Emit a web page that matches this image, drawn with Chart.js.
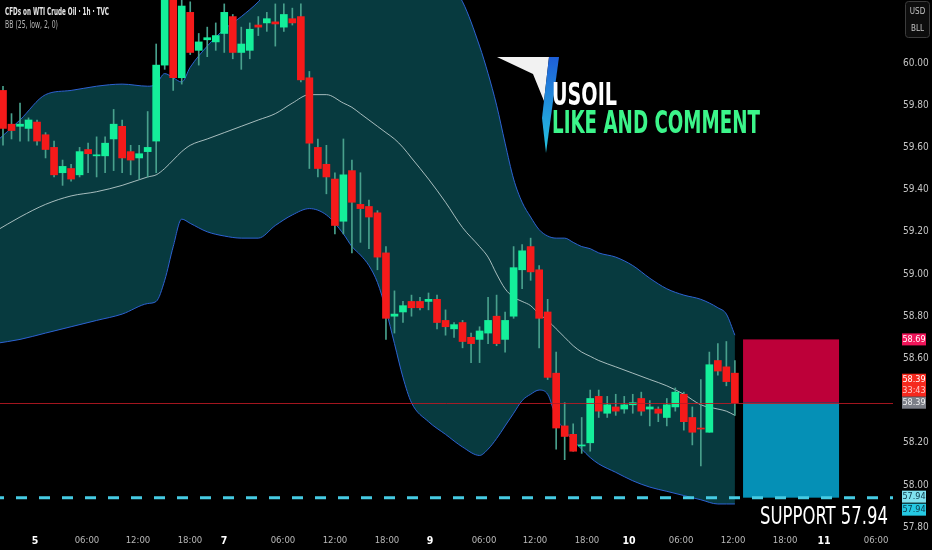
<!DOCTYPE html>
<html>
<head>
<meta charset="utf-8">
<script src="https://cdn.jsdelivr.net/npm/chart.js@4/dist/chart.umd.min.js"></script>
<style>
  html, body { margin: 0; padding: 0; background: #000; }
  #wrap { width: 932px; height: 550px; }
</style>
</head>
<body>
<div id="wrap"><canvas id="chart" width="932" height="550"></canvas></div>
<script>
// hourly candles, WTI crude (TVC), bar index 0..86
const opens = [
  59.87, 59.71, 59.70, 59.69, 59.72, 59.66, 59.60, 59.48, 59.50, 59.47,
  59.59, 59.56, 59.56, 59.64, 59.70, 59.58, 59.55, 59.58, 59.63, 59.99,
  60.33, 59.93, 60.24, 60.06, 60.11, 60.10, 60.14, 60.22, 60.05, 60.06,
  60.18, 60.19, 60.195, 60.17, 60.21, 60.22, 59.93, 59.60, 59.52, 59.45,
  59.25, 59.49, 59.33, 59.32, 59.29, 59.10, 58.80, 58.82, 58.87, 58.87,
  58.87, 58.88, 58.78, 58.74, 58.77, 58.70, 58.69, 58.72, 58.80, 58.69,
  58.80, 59.02, 59.13, 59.02, 58.82, 58.53, 58.28, 58.24, 58.185, 58.20,
  58.42, 58.34, 58.37, 58.36, 58.38, 58.41, 58.36, 58.36, 58.32, 58.37,
  58.43, 58.32, 58.27, 58.25, 58.59, 58.56, 58.53
];
const highs = [
  59.89, 59.76, 59.81, 59.74, 59.73, 59.67, 59.63, 59.54, 59.52, 59.60,
  59.62, 59.65, 59.65, 59.78, 59.73, 59.61, 59.61, 59.77, 60.09, 60.35,
  60.38, 60.30, 60.29, 60.14, 60.17, 60.19, 60.28, 60.23, 60.17, 60.19,
  60.22, 60.24, 60.28, 60.28, 60.26, 60.28, 59.96, 59.64, 59.61, 59.48,
  59.64, 59.54, 59.48, 59.35, 59.30, 59.13, 58.92, 58.87, 58.90, 58.89,
  58.91, 58.90, 58.83, 58.77, 58.78, 58.72, 58.75, 58.89, 58.90, 58.82,
  59.13, 59.14, 59.17, 59.04, 58.88, 58.63, 58.39, 58.29, 58.32, 58.45,
  58.45, 58.42, 58.43, 58.42, 58.43, 58.44, 58.40, 58.37, 58.41, 58.46,
  58.44, 58.37, 58.50, 58.63, 58.67, 58.68, 58.59
];
const lows = [
  59.61, 59.64, 59.63, 59.63, 59.61, 59.55, 59.46, 59.42, 59.44, 59.46,
  59.48, 59.46, 59.48, 59.49, 59.48, 59.47, 59.45, 59.46, 59.48, 59.97,
  59.87, 59.90, 60.04, 59.99, 60.03, 60.06, 60.05, 60.02, 59.97, 60.02,
  60.13, 60.15, 60.08, 60.15, 60.18, 59.91, 59.50, 59.46, 59.38, 59.19,
  59.19, 59.10, 59.15, 59.12, 59.02, 58.69, 58.72, 58.77, 58.80, 58.83,
  58.83, 58.74, 58.71, 58.70, 58.65, 58.58, 58.58, 58.67, 58.66, 58.63,
  58.79, 58.93, 58.97, 58.65, 58.50, 58.17, 58.12, 58.16, 58.15, 58.16,
  58.32, 58.32, 58.33, 58.34, 58.34, 58.33, 58.28, 58.30, 58.28, 58.35,
  58.26, 58.19, 58.09, 58.25, 58.52, 58.47, 58.33
];
const closes = [
  59.69, 59.68, 59.71, 59.73, 59.63, 59.59, 59.47, 59.51, 59.45, 59.58,
  59.57, 59.565, 59.62, 59.71, 59.55, 59.54, 59.57, 59.60, 59.99, 60.30,
  59.93, 60.27, 60.05, 60.10, 60.12, 60.13, 60.24, 60.05, 60.09, 60.16,
  60.17, 60.21, 60.185, 60.23, 60.19, 59.92, 59.62, 59.50, 59.46, 59.23,
  59.47, 59.34, 59.31, 59.27, 59.08, 58.79, 58.81, 58.85, 58.84, 58.84,
  58.88, 58.77, 58.75, 58.76, 58.68, 58.67, 58.73, 58.78, 58.67, 58.78,
  59.03, 59.11, 59.01, 58.79, 58.51, 58.27, 58.23, 58.16, 58.19, 58.41,
  58.35, 58.38, 58.35, 58.38, 58.39, 58.35, 58.37, 58.34, 58.38, 58.44,
  58.30, 58.25, 58.265, 58.57, 58.54, 58.49, 58.39
];

// Bollinger bands BB(25, low, 2, 0) at these bar indices
const bbIndex = [
  -1, 2, 5, 8, 11, 14, 17, 18, 19, 20, 21, 22, 24, 26, 28, 30, 32, 34, 36, 38,
  40, 41, 42, 43, 44, 45, 46, 47, 48, 50, 52, 54, 56, 57, 58, 59, 60, 61, 62, 63,
  64, 65, 66, 67, 68, 69, 70, 72, 74, 76, 78, 80, 82, 84, 85, 86
];
const bbUpper = [
  59.62, 59.73, 59.85, 59.87, 59.89, 59.90, 59.89, 59.90, 59.95, 59.93, 59.91, 59.98, 60.08, 60.16, 60.22, 60.29, 60.38, 60.44, 60.48, 60.50,
  60.51, 60.51, 60.51, 60.51, 60.50, 60.50, 60.49, 60.48, 60.47, 60.45, 60.40, 60.29, 60.08, 59.95, 59.80, 59.62, 59.45, 59.34, 59.27, 59.21,
  59.18, 59.17, 59.17, 59.15, 59.13, 59.12, 59.10, 59.08, 59.04, 58.98, 58.93, 58.90, 58.88, 58.84, 58.81, 58.71
];
const bbMiddle = [
  59.20, 59.27, 59.33, 59.37, 59.39, 59.42, 59.46, 59.47, 59.50, 59.54, 59.58, 59.61, 59.64, 59.67, 59.70, 59.73, 59.76, 59.81, 59.85, 59.85,
  59.81, 59.79, 59.76, 59.73, 59.70, 59.67, 59.64, 59.60, 59.55, 59.45, 59.34, 59.22, 59.13, 59.08, 59.00, 58.93, 58.89, 58.87, 58.85, 58.81,
  58.78, 58.74, 58.70, 58.66, 58.63, 58.61, 58.59, 58.56, 58.53, 58.50, 58.47, 58.43, 58.38, 58.36, 58.35, 58.33
];
const bbLower = [
  58.67, 58.69, 58.72, 58.75, 58.78, 58.81, 58.86, 58.87, 58.97, 59.13, 59.26, 59.24, 59.20, 59.18, 59.17, 59.17, 59.23, 59.28, 59.31, 59.28,
  59.19, 59.13, 59.09, 59.04, 58.96, 58.83, 58.67, 58.51, 58.39, 58.30, 58.24, 58.18, 58.14, 58.17, 58.22, 58.28, 58.34, 58.40, 58.43, 58.45,
  58.43, 58.32, 58.26, 58.21, 58.17, 58.13, 58.10, 58.06, 58.02, 57.99, 57.97, 57.95, 57.93, 57.91, 57.91, 57.91
];

const yTicks = [57.8, 58.0, 58.2, 58.6, 58.8, 59.0, 59.2, 59.4, 59.6, 59.8, 60.0];
const xTickPos = [3.76, 9.87, 15.86, 21.97, 25.97, 32.9, 39.01, 45.12, 50.18, 56.52, 62.51, 68.62, 73.56, 79.67, 85.78, 91.89, 96.47, 102.59];
const xTickLabels = ['5', '06:00', '12:00', '18:00', '7', '06:00', '12:00', '18:00', '9', '06:00', '12:00', '18:00', '10', '06:00', '12:00', '18:00', '11', '06:00'];
const dayLabels = ['5', '7', '9', '10', '11'];

const lastPrice = 58.39;
const stopPrice = 58.69;
const supportPrice = 57.94;
const positionFrom = 86.96;
const positionTo = 98.24;

const UP = '#14ef9a';
const DOWN = '#f51a1a';
const WICK = '#48a08c';
const NARROW = '"Liberation Sans Narrow", "DejaVu Sans Condensed", sans-serif';

const candleColors = opens.map((o, i) => closes[i] >= o ? UP : DOWN);

function band(values) {
  return bbIndex.map((x, k) => ({ x: x, y: values[k] }));
}

function fitText(ctx, str, x, y, w, font, color) {
  ctx.save();
  ctx.font = font;
  ctx.fillStyle = color;
  ctx.textBaseline = 'middle';
  ctx.textAlign = 'left';
  const m = ctx.measureText(str).width;
  ctx.translate(x, y);
  ctx.scale(w / m, 1);
  ctx.fillText(str, 0, 0);
  ctx.restore();
}

function priceBox(ctx, top, h, bg, lines, fg) {
  ctx.save();
  ctx.fillStyle = bg;
  ctx.fillRect(902, top, 24, h);
  ctx.font = '9px ' + NARROW;
  ctx.textAlign = 'center';
  ctx.textBaseline = 'middle';
  lines.forEach((ln, k) => {
    ctx.fillStyle = k === 0 ? fg : '#ffc9c9';
    ctx.fillText(ln, 914, top + 6 + k * 11);
  });
  ctx.restore();
}

const overlay = {
  id: 'overlay',
  beforeDraw(chart) {
    const ctx = chart.ctx;
    ctx.save();
    ctx.fillStyle = '#000';
    ctx.fillRect(0, 0, chart.width, chart.height);
    ctx.restore();
  },
  afterDatasetsDraw(chart) {
    const { ctx, chartArea: a } = chart;
    const x = chart.scales.x, y = chart.scales.y;
    const yEntry = y.getPixelForValue(lastPrice);
    const yStop = y.getPixelForValue(stopPrice);
    const yTarget = y.getPixelForValue(supportPrice);
    const x0 = x.getPixelForValue(positionFrom);
    const x1 = x.getPixelForValue(positionTo);
    ctx.save();
    // short position box
    ctx.fillStyle = '#bd0039';
    ctx.fillRect(x0, yStop, x1 - x0, yEntry - yStop);
    ctx.fillStyle = '#0590b6';
    ctx.fillRect(x0, yEntry, x1 - x0, yTarget - yEntry);
    // last price line
    ctx.strokeStyle = 'rgba(190,25,35,0.85)';
    ctx.lineWidth = 1;
    const yl = Math.round(yEntry) + 0.5;
    ctx.beginPath();
    ctx.moveTo(a.left, yl);
    ctx.lineTo(a.right, yl);
    ctx.stroke();
    // support line
    ctx.strokeStyle = '#46cbe3';
    ctx.lineWidth = 3;
    ctx.setLineDash([11, 12]);
    ctx.lineDashOffset = 7;
    ctx.beginPath();
    ctx.moveTo(a.left, yTarget);
    ctx.lineTo(a.right, yTarget);
    ctx.stroke();
    ctx.restore();
  },
  afterDraw(chart) {
    const ctx = chart.ctx;
    const y = chart.scales.y;

    // header
    fitText(ctx, 'CFDs on WTI Crude Oil \u00b7 1h \u00b7 TVC', 5, 12, 104, 'bold 10.5px ' + NARROW, '#e6e6e6');
    fitText(ctx, 'BB (25, low, 2, 0)', 5, 25, 53, '10.5px ' + NARROW, '#b4b4b4');

    // currency box
    ctx.save();
    ctx.fillStyle = '#0d0d0d';
    ctx.strokeStyle = '#3c3c3c';
    ctx.lineWidth = 1;
    ctx.beginPath();
    ctx.roundRect(905.5, 1.5, 24, 36, 3);
    ctx.fill();
    ctx.stroke();
    ctx.fillStyle = '#c4c4c4';
    ctx.font = '8px ' + NARROW;
    ctx.textAlign = 'center';
    ctx.textBaseline = 'middle';
    ctx.fillText('USD', 917.5, 12);
    ctx.fillText('BLL', 917.5, 29);
    ctx.restore();

    // axis price labels
    const ps = y.getPixelForValue(stopPrice);
    const pl = y.getPixelForValue(lastPrice);
    const pt = y.getPixelForValue(supportPrice);
    priceBox(ctx, ps - 6, 12, '#f0155a', ['58.69'], '#ffffff');
    priceBox(ctx, pl - 29, 23, '#f5291e', ['58.39', '33:43'], '#ffffff');
    priceBox(ctx, pl - 6, 12, '#7b7e87', ['58.39'], '#f0f0f0');
    priceBox(ctx, pt - 7, 12, '#80e2ef', ['57.94'], '#0b3a4a');
    priceBox(ctx, pt + 6, 12, '#25c9e3', ['57.94'], '#0b3a4a');

    // logo
    ctx.save();
    ctx.fillStyle = '#f2f2f2';
    ctx.beginPath();
    ctx.moveTo(497, 57);
    ctx.lineTo(549, 57);
    ctx.lineTo(544, 101);
    ctx.lineTo(533, 74);
    ctx.closePath();
    ctx.fill();
    const g = ctx.createLinearGradient(0, 57, 0, 152);
    g.addColorStop(0, '#1e5fd8');
    g.addColorStop(1, '#25c4e0');
    ctx.fillStyle = g;
    ctx.beginPath();
    ctx.moveTo(549, 57);
    ctx.lineTo(559, 57);
    ctx.lineTo(546, 153);
    ctx.lineTo(542, 118);
    ctx.closePath();
    ctx.fill();
    ctx.restore();

    fitText(ctx, 'USOIL', 552, 97, 65, 'bold 32px ' + NARROW, '#ffffff');
    fitText(ctx, 'LIKE AND COMMENT', 552, 125, 208, 'bold 32px ' + NARROW, '#3cf58a');
    fitText(ctx, 'SUPPORT 57.94', 760, 517, 128, '25px ' + NARROW, '#ffffff');
  }
};

new Chart(document.getElementById('chart'), {
  type: 'bar',
  data: {
    datasets: [
      {
        type: 'line', data: band(bbUpper), order: 6,
        borderColor: '#2d62d2', borderWidth: 1, pointRadius: 0,
        cubicInterpolationMode: 'monotone',
        fill: 2, backgroundColor: '#073a3f'
      },
      {
        type: 'line', data: band(bbMiddle), order: 4,
        borderColor: 'rgba(195,212,212,0.85)', borderWidth: 1, pointRadius: 0,
        cubicInterpolationMode: 'monotone', fill: false
      },
      {
        type: 'line', data: band(bbLower), order: 5,
        borderColor: '#2d62d2', borderWidth: 1, pointRadius: 0,
        cubicInterpolationMode: 'monotone', fill: false
      },
      {
        type: 'bar', order: 2, grouped: false,
        data: opens.map((o, i) => ({ x: i, y: [lows[i], highs[i]] })),
        backgroundColor: WICK, barThickness: 1, borderWidth: 0
      },
      {
        type: 'bar', order: 1, grouped: false,
        data: opens.map((o, i) => ({ x: i, y: [o, closes[i]] })),
        backgroundColor: candleColors, barThickness: 7, borderWidth: 0, minBarLength: 1
      }
    ]
  },
  options: {
    responsive: false,
    animation: false,
    devicePixelRatio: 1,
    layout: { padding: 0 },
    plugins: { legend: { display: false }, tooltip: { enabled: false } },
    scales: {
      x: {
        type: 'linear',
        min: -0.3525,
        max: 104.58,
        offset: false,
        grid: { display: false, drawTicks: false },
        border: { display: false },
        afterBuildTicks: s => { s.ticks = xTickPos.map(v => ({ value: v })); },
        afterFit: s => { s.height = 20; s.paddingLeft = 0; s.paddingRight = 0; },
        ticks: {
          autoSkip: false,
          maxRotation: 0,
          padding: 5,
          callback: (v, i) => xTickLabels[i],
          color: c => dayLabels.includes(xTickLabels[c.index]) ? '#ffffff' : '#b8b8b8',
          font: c => ({
            family: NARROW,
            size: dayLabels.includes(xTickLabels[c.index]) ? 10.5 : 9.5,
            weight: dayLabels.includes(xTickLabels[c.index]) ? 'bold' : 'normal'
          })
        }
      },
      y: {
        type: 'linear',
        position: 'right',
        min: 57.7867,
        max: 60.2986,
        grid: { display: false, drawTicks: false },
        border: { display: false },
        afterBuildTicks: s => { s.ticks = yTicks.map(v => ({ value: v })); },
        afterFit: s => { s.width = 39; s.paddingTop = 0; s.paddingBottom = 0; },
        ticks: {
          padding: 10,
          color: '#c4c4c4',
          font: { family: NARROW, size: 10 },
          callback: v => v.toFixed(2)
        }
      }
    }
  },
  plugins: [overlay]
});
</script>
</body>
</html>
